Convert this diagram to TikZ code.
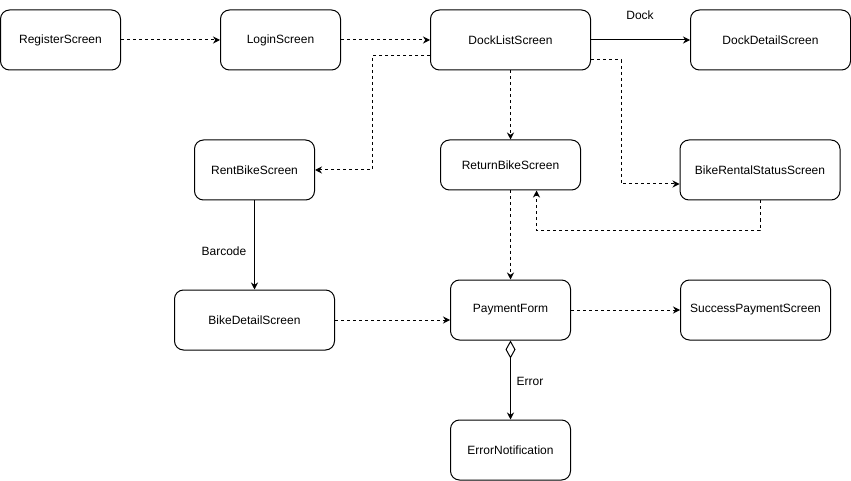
\documentclass[tikz,border=0pt]{standalone}
\usepackage{fontspec}
\setmainfont{Liberation Sans}
\usetikzlibrary{arrows.meta,calc}
\begin{document}
\begin{tikzpicture}[x=1pt,y=-1pt,
  box/.style={draw=black,line width=1pt,rounded corners=9pt,fill=white,align=center,inner sep=0pt,font=\fontsize{12pt}{14pt}\selectfont},
  dsh/.style={line width=1pt,dash pattern=on 3pt off 3pt,-{Stealth[length=7pt,width=7pt]}},
  sol/.style={line width=1pt,-{Stealth[length=7pt,width=7pt]}},
  lbl/.style={font=\fontsize{12pt}{14pt}\selectfont,inner sep=0pt}]
\useasboundingbox (0,0) rectangle (851,481);
\node[box,minimum width=120pt,minimum height=60pt] (reg) at (60.5,40) {RegisterScreen};
\node[box,minimum width=120pt,minimum height=60pt] (login) at (280.5,40) {LoginScreen};
\node[box,minimum width=160pt,minimum height=60pt] (dock) at (510.5,40) {DockListScreen};
\node[box,minimum width=160pt,minimum height=60pt] (dockd) at (770.5,40) {DockDetailScreen};
\node[box,minimum width=120pt,minimum height=60pt] (rent) at (254.5,170) {RentBikeScreen};
\node[box,minimum width=140pt,minimum height=50pt] (ret) at (510.5,165) {ReturnBikeScreen};
\node[box,minimum width=160pt,minimum height=60pt] (brs) at (760,170) {BikeRentalStatusScreen};
\node[box,minimum width=160pt,minimum height=60pt] (bd) at (254.5,320) {BikeDetailScreen};
\node[box,minimum width=120pt,minimum height=60pt] (pay) at (510.5,310) {PaymentForm};
\node[box,minimum width=150pt,minimum height=60pt] (succ) at (755.5,310) {SuccessPaymentScreen};
\node[box,minimum width=120pt,minimum height=60pt] (err) at (510.5,450) {ErrorNotification};

\draw[dsh] (reg.east) -- (login.west);
\draw[dsh] (login.east) -- (dock.west);
\draw[sol] (dock.east) -- (dockd.west);
\node[lbl] (docklbl) at (640,15) {Dock};
\draw[dsh] ($(dock.west)+(0,16)$) -- ++(-58,0) |- (rent.east);
\draw[dsh] (dock.south) -- (ret.north);
\draw[dsh] ($(dock.east)+(0,20)$) -- ++(30,0) |- ($(brs.west)+(0,14)$);
\draw[dsh] (brs.south) -- ++(0,30) -| ($(ret.south)+(26,0)$);
\draw[dsh] (ret.south) -- (pay.north);
\draw[sol] (rent.south) -- (bd.north);
\node[lbl] (barlbl) at (224,251) {Barcode};
\draw[dsh] (bd.east) -- ($(pay.west)+(0,10)$);
\draw[dsh] (pay.east) -- (succ.west);
\draw[line width=1pt,{Diamond[open,length=18pt,width=10pt]}-{Stealth[length=7pt,width=7pt]}] (pay.south) -- (err.north);
\node[lbl] (errlbl) at (530,381) {Error};
\end{tikzpicture}
\end{document}
